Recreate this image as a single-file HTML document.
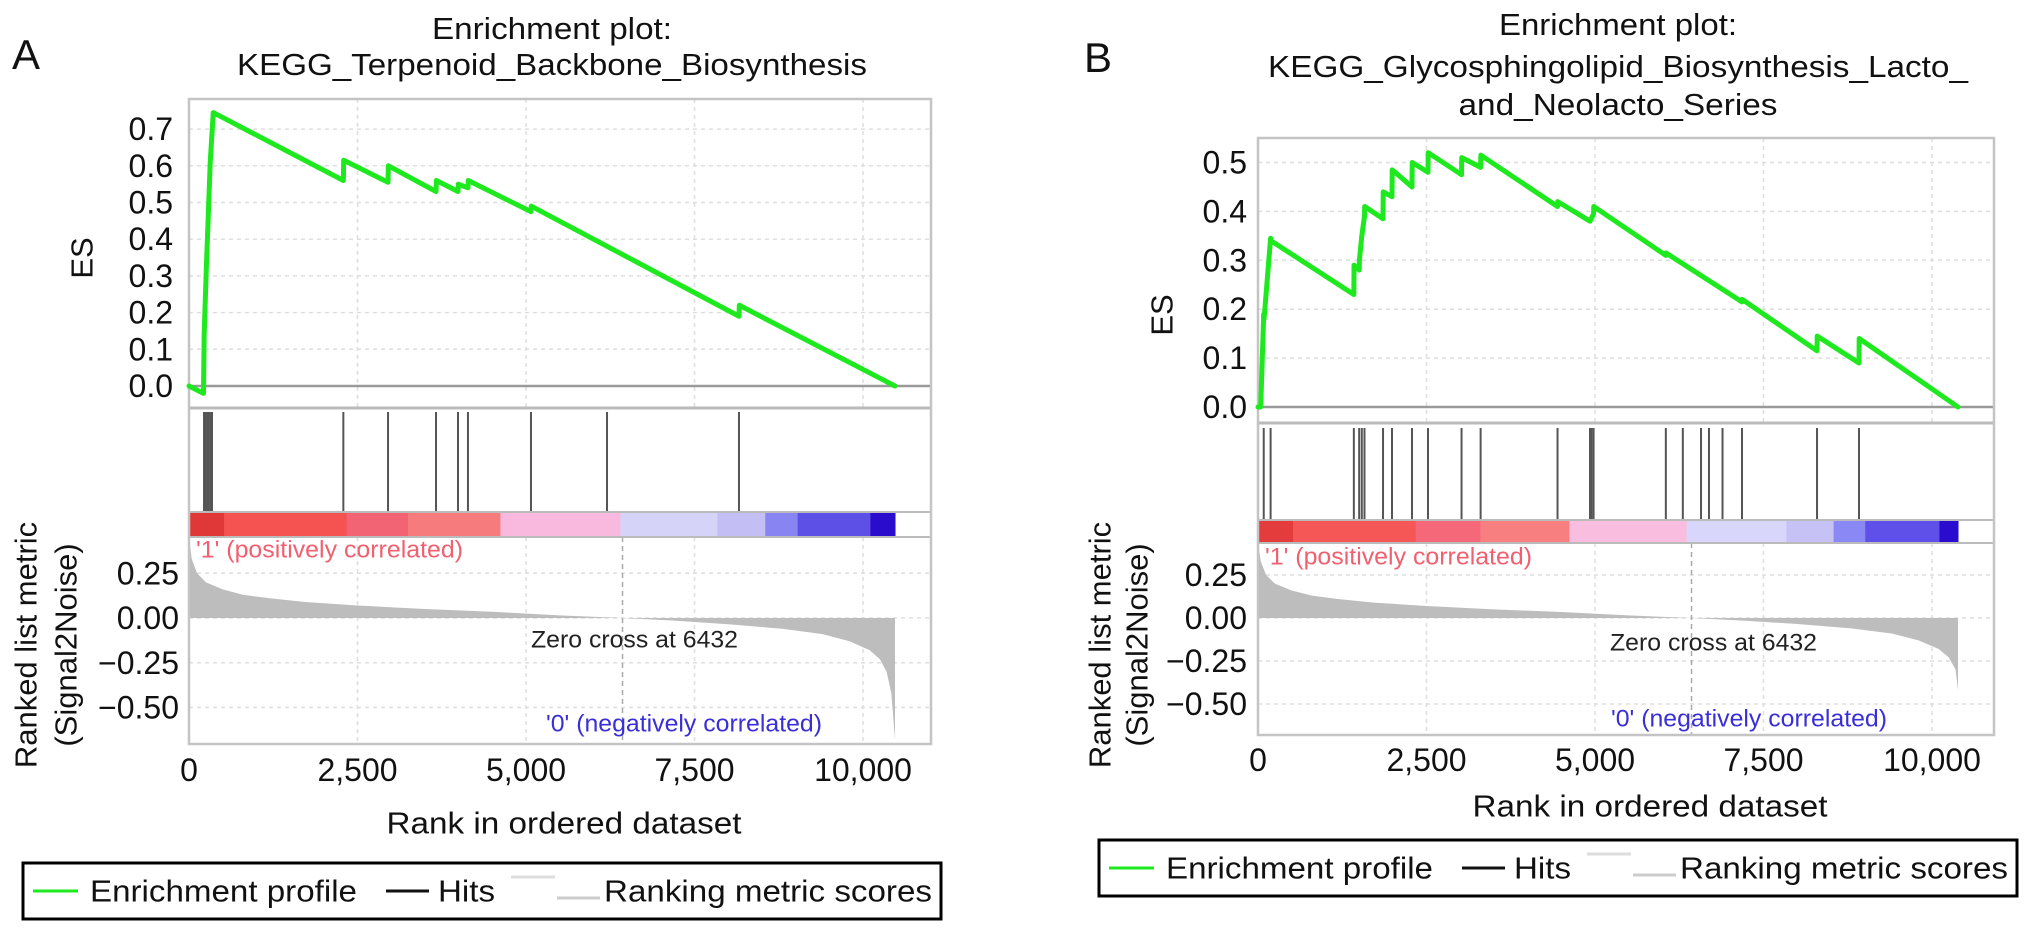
<!DOCTYPE html>
<html><head><meta charset="utf-8"><style>
html,body{margin:0;padding:0;background:#fff;}
svg{display:block;font-family:"Liberation Sans",Arial,sans-serif;}
</style></head><body>
<svg id="fig" width="2032" height="933" viewBox="0 0 2032 933" xmlns="http://www.w3.org/2000/svg"></svg>
<script>
// ---------- data ----------
const xTicks = [0, 2500, 5000, 7500, 10000];
const xTickLabels = ["0", "2,500", "5,000", "7,500", "10,000"];
const esTicksA = [0, 0.1, 0.2, 0.3, 0.4, 0.5, 0.6, 0.7];
const esTickLabelsA = ["0.0","0.1","0.2","0.3","0.4","0.5","0.6","0.7"];
const esTicksB = [0, 0.1, 0.2, 0.3, 0.4, 0.5];
const esTickLabelsB = ["0.0","0.1","0.2","0.3","0.4","0.5"];
const metricTicks = [0.25, 0, -0.25, -0.5];
const metricTickLabels = ["0.25", "0.00", "\u22120.25", "\u22120.50"];

const hitsA = [223, 252, 282, 312, 341, 2290, 2953, 3665, 3991, 4139, 5074, 6202, 8160];
const esRankA = [0, 215, 225, 255, 285, 315, 360, 2290, 2295, 2953, 2958, 3665, 3670, 3991, 3996, 4139, 4144, 5074, 5079, 8160, 8165, 10475];
const esValA  = [0, -0.02, 0.14, 0.31, 0.46, 0.61, 0.745, 0.56, 0.615, 0.555, 0.60, 0.53, 0.56, 0.53, 0.55, 0.54, 0.56, 0.475, 0.49, 0.19, 0.22, 0.0];

const hitsB = [85, 187, 1422, 1501, 1540, 1580, 1855, 1988, 2285, 2522, 3020, 3303, 4444, 4926, 4948, 4979, 6051, 6303, 6573, 6691, 6892, 7181, 8294, 8917];
const esRankB = [0, 40, 85, 90, 187, 192, 1422, 1425, 1501, 1504, 1540, 1580, 1583, 1855, 1858, 1988, 1991, 2285, 2288, 2522, 2525, 3020, 3023, 3303, 3306, 4444, 4447, 4926, 4979, 4982, 6051, 6054, 7181, 7184, 8294, 8297, 8917, 8920, 10386];
const esValB  = [0, 0, 0.19, 0.18, 0.345, 0.34, 0.23, 0.29, 0.28, 0.30, 0.35, 0.39, 0.41, 0.385, 0.44, 0.43, 0.485, 0.45, 0.50, 0.48, 0.52, 0.475, 0.51, 0.49, 0.515, 0.41, 0.42, 0.38, 0.395, 0.41, 0.31, 0.315, 0.215, 0.22, 0.115, 0.145, 0.09, 0.14, 0.0];

const metricRank = [0, 40, 120, 250, 500, 800, 1200, 1700, 2500, 3500, 4500, 5500, 6432, 7200, 8000, 8800, 9400, 9800, 10100, 10250, 10350, 10420, 10475];
const metricVal  = [0.45, 0.33, 0.25, 0.20, 0.16, 0.13, 0.11, 0.09, 0.07, 0.05, 0.035, 0.015, 0, -0.015, -0.035, -0.06, -0.09, -0.13, -0.18, -0.23, -0.30, -0.42, -0.68];

const barEdgesA = [0, 520, 2340, 3250, 4620, 6400, 7840, 8550, 9030, 10110, 10475];
const barEdgesB = [0, 520, 2340, 3300, 4620, 6360, 7840, 8540, 9010, 10110, 10386];
const barColorsA = ["#e03838","#f55252","#f26474","#f57b7d","#f9b8de","#d5d3f8","#c3bff5","#8884f2","#5c50e6","#2a0ccd"];
const barColorsB = ["#e43c3c","#f55656","#f4687a","#f77f80","#f9bde0","#d8d6fa","#c6c2f6","#8a88f5","#5e50e8","#2a0ccf"];

// ---------- helpers ----------
const NS = "http://www.w3.org/2000/svg";
const svg = document.getElementById("fig");
function mk(tag, attrs, parent) {
  const e = document.createElementNS(NS, tag);
  for (const k in attrs) e.setAttribute(k, attrs[k]);
  (parent || svg).appendChild(e);
  return e;
}
function txt(str, attrs, parent) {
  const e = mk("text", attrs, parent);
  e.textContent = str;
  return e;
}

function drawPanel(c, d) {
  const g = mk("g", {});
  
  
  const X = r => c.left + r * c.xPer;
  const ES = v => c.es0 - v * c.esScale;
  const M = v => c.m0 - v * c.mScale;

  const lt = txt(c.letter, {x: c.letterX, y: c.letterY, "font-size": 42, fill: "#111"}, g);
  
  

  c.titleLines.forEach((t, i) => {
    const tt = txt(t[0], {x: c.titleX, y: c.titleY[i], "font-size": 31, "text-anchor": "middle", fill: "#111", textLength: t[1], lengthAdjust: "spacingAndGlyphs"}, g);
    
    
  });

  xTicks.forEach(t => {
    [[c.esTop, c.esBottom], [c.barBottom, c.mBottom]].forEach(seg => {
      const l = mk("line", {x1: X(t), x2: X(t), y1: seg[0], y2: seg[1], stroke: "#dedede", "stroke-width": 1.5, "stroke-dasharray": "4,4"}, g);
      
      
    });
  });
  d.esTicks.forEach(t => {
    const l = mk("line", {x1: c.left, x2: c.right, y1: ES(t), y2: ES(t), stroke: "#dedede", "stroke-width": 1.5, "stroke-dasharray": "4,4"}, g);
    
    
  });
  metricTicks.forEach(t => {
    const l = mk("line", {x1: c.left, x2: c.right, y1: M(t), y2: M(t), stroke: "#dedede", "stroke-width": 1.5, "stroke-dasharray": "4,4"}, g);
    
    
  });

  let pts = [[X(metricRank[0]), M(0)]];
  for (let i = 0; i < metricRank.length; i++) {
    const r = Math.min(metricRank[i], d.maxRank);
    pts.push([X(r), Math.max(c.barBottom, Math.min(c.mBottom - 4, M(metricVal[i])))]);
  }
  pts.push([X(Math.min(metricRank[metricRank.length - 1], d.maxRank)), M(0)]);
  const area = mk("polygon", {points: pts.map(p => p.join(",")).join(" "), fill: "#bdbdbd", stroke: "none"}, g);
  
  

  const zc = mk("line", {x1: X(6432), x2: X(6432), y1: c.barBottom, y2: c.mBottom, stroke: "#aaa", "stroke-width": 1.5, "stroke-dasharray": "5,4"}, g);
  
  

  for (let i = 0; i < d.barColors.length; i++) {
    const x0 = X(d.barEdges[i]), x1 = X(d.barEdges[i + 1]);
    const r = mk("rect", {x: x0, y: c.barTop, width: x1 - x0 + 0.5, height: c.barBottom - c.barTop, fill: d.barColors[i]}, g);
    
    
  }

  d.hits.forEach(h => {
    const l = mk("line", {x1: X(h), x2: X(h), y1: c.hitsTop, y2: c.barTop, stroke: "#555", "stroke-width": 2}, g);
    
    
  });

  const z = mk("line", {x1: c.left, x2: c.right, y1: ES(0), y2: ES(0), stroke: "#999", "stroke-width": 2.5}, g);
  
  

  [c.esBottom, c.barTop, c.barBottom].forEach((y, i) => {
    const l = mk("line", {x1: c.left, x2: c.right, y1: y, y2: y, stroke: "#bbb", "stroke-width": i === 0 ? 3 : 2}, g);
    
    
  });
  const fr = mk("rect", {x: c.left, y: c.esTop, width: c.right - c.left, height: c.mBottom - c.esTop, fill: "none", stroke: "#c4c4c4", "stroke-width": 2.5}, g);
  
  

  const esPts = d.esRank.map((r, i) => X(r) + "," + ES(d.esVal[i])).join(" ");
  const es = mk("polyline", {points: esPts, fill: "none", stroke: "#1ee81e", "stroke-width": 5, "stroke-linejoin": "round", "stroke-linecap": "round"}, g);
  
  

  d.esTicks.forEach((t, i) => {
    const e = txt(d.esTickLabels[i], {x: c.left - c.esLabGap, y: ES(t), "font-size": 32, "text-anchor": "end", "dominant-baseline": "central", fill: "#111"}, g);
    
    
  });
  metricTicks.forEach((t, i) => {
    const e = txt(metricTickLabels[i], {x: c.left - c.mLabGap, y: M(t), "font-size": 32, "text-anchor": "end", "dominant-baseline": "central", fill: "#111"}, g);
    
    
  });
  xTicks.forEach((t, i) => {
    const e = txt(xTickLabels[i], {x: X(t), y: c.xTickY, "font-size": 32, "text-anchor": "middle", "dominant-baseline": "central", fill: "#111"}, g);
    
    
  });

  let e;
  e = txt("Rank in ordered dataset", {x: c.xLabX, y: c.xLabY, "font-size": 31, "text-anchor": "middle", "dominant-baseline": "central", fill: "#111", textLength: 355, lengthAdjust: "spacingAndGlyphs"}, g);
  
  
  e = txt("ES", {x: 0, y: 0, "font-size": 31, "text-anchor": "middle", "dominant-baseline": "central", fill: "#111", transform: `translate(${c.esLabX},${c.esLabY}) rotate(-90)`}, g);
  
  
  e = txt("Ranked list metric", {x: 0, y: 0, "font-size": 31, "text-anchor": "middle", "dominant-baseline": "central", fill: "#111", transform: `translate(${c.mLabX1},${c.mLabY}) rotate(-90)`}, g);
  
  
  e = txt("(Signal2Noise)", {x: 0, y: 0, "font-size": 31, "text-anchor": "middle", "dominant-baseline": "central", fill: "#111", transform: `translate(${c.mLabX2},${c.mLabY}) rotate(-90)`}, g);
  
  

  e = txt("'1' (positively correlated)", {x: c.posX, y: c.posY, "font-size": 24, fill: "#f06070", "dominant-baseline": "central", textLength: 267, lengthAdjust: "spacingAndGlyphs"}, g);
  
  
  e = txt("Zero cross at 6432", {x: c.zcX, y: c.zcY, "font-size": 24, fill: "#222", "dominant-baseline": "central", textLength: 207, lengthAdjust: "spacingAndGlyphs"}, g);
  
  
  e = txt("'0' (negatively correlated)", {x: c.negX, y: c.negY, "font-size": 24, fill: "#3a2ed8", "dominant-baseline": "central", textLength: 276, lengthAdjust: "spacingAndGlyphs"}, g);
  
  

  const L = c.legX, cy = c.legY;
  const lg = mk("g", {}, g);
  
  
  const box = mk("rect", {x: L, y: cy - 28, width: 918, height: 56, fill: "#fff", stroke: "#000", "stroke-width": 3}, lg);
  
  
  e = mk("line", {x1: L + 10, x2: L + 55, y1: cy, y2: cy, stroke: "#1ee81e", "stroke-width": 3}, lg);
  
  
  e = txt("Enrichment profile", {x: L + 67, y: cy, "font-size": 31, "dominant-baseline": "central", fill: "#111", textLength: 267, lengthAdjust: "spacingAndGlyphs"}, lg);
  
  
  e = mk("line", {x1: L + 363, x2: L + 406, y1: cy, y2: cy, stroke: "#111", "stroke-width": 3}, lg);
  
  
  e = txt("Hits", {x: L + 415, y: cy, "font-size": 31, "dominant-baseline": "central", fill: "#111", textLength: 57, lengthAdjust: "spacingAndGlyphs"}, lg);
  
  
  e = mk("line", {x1: L + 488, x2: L + 532, y1: cy - 14, y2: cy - 14, stroke: "#ddd", "stroke-width": 3}, lg);
  
  
  e = mk("line", {x1: L + 534, x2: L + 577, y1: cy + 7, y2: cy + 7, stroke: "#ccc", "stroke-width": 3}, lg);
  
  
  e = txt("Ranking metric scores", {x: L + 581, y: cy, "font-size": 31, "dominant-baseline": "central", fill: "#111", textLength: 328, lengthAdjust: "spacingAndGlyphs"}, lg);
  
  
}

drawPanel({
  name: "panel-a", letter: "A", letterX: 12, letterY: 69,
  titleX: 552, titleY: [39, 75],
  titleLines: [["Enrichment plot:", 240], ["KEGG_Terpenoid_Backbone_Biosynthesis", 630]],
  left: 189, right: 931, xPer: 0.0674,
  esTop: 99, esBottom: 408, es0: 386, esScale: 367,
  hitsTop: 412, barTop: 512, barBottom: 537, mBottom: 744, m0: 618, mScale: 179,
  esLabGap: 16, mLabGap: 10, xTickY: 770, xLabX: 564, xLabY: 823,
  esLabX: 82, esLabY: 258, mLabX1: 26, mLabX2: 66, mLabY: 645,
  posX: 196, posY: 550, zcX: 531, zcY: 640, negX: 546, negY: 724,
  legX: 23, legY: 891
}, {hits: hitsA, esRank: esRankA, esVal: esValA, esTicks: esTicksA, esTickLabels: esTickLabelsA, barEdges: barEdgesA, barColors: barColorsA, maxRank: 10475});

drawPanel({
  name: "panel-b", letter: "B", letterX: 1084, letterY: 72,
  titleX: 1618, titleY: [35, 77, 115],
  titleLines: [["Enrichment plot:", 238], ["KEGG_Glycosphingolipid_Biosynthesis_Lacto_", 700], ["and_Neolacto_Series", 319]],
  left: 1258, right: 1994, xPer: 0.0674,
  esTop: 138, esBottom: 423, es0: 407, esScale: 489,
  hitsTop: 428, barTop: 520, barBottom: 543, mBottom: 735, m0: 618, mScale: 172,
  esLabGap: 11, mLabGap: 11, xTickY: 760, xLabX: 1650, xLabY: 806,
  esLabX: 1162, esLabY: 315, mLabX1: 1100, mLabX2: 1137, mLabY: 645,
  posX: 1265, posY: 557, zcX: 1610, zcY: 643, negX: 1611, negY: 719,
  legX: 1099, legY: 868
}, {hits: hitsB, esRank: esRankB, esVal: esValB, esTicks: esTicksB, esTickLabels: esTickLabelsB, barEdges: barEdgesB, barColors: barColorsB, maxRank: 10386});
</script>
</body></html>
